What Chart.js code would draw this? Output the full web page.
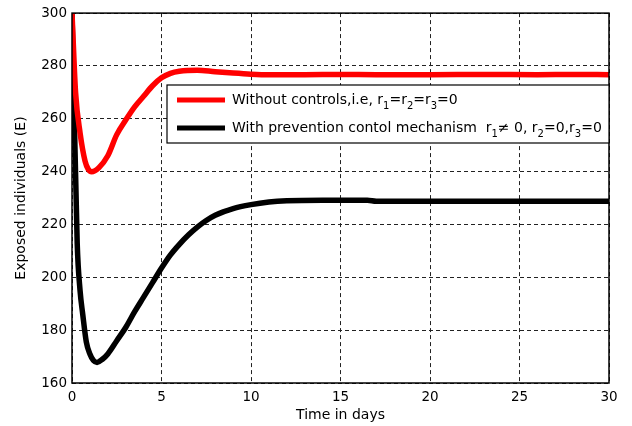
<!DOCTYPE html>
<html>
<head>
<meta charset="utf-8">
<script src="https://cdn.jsdelivr.net/npm/chart.js@4"></script>
<style>
  html, body { margin: 0; padding: 0; background: #fff; }
  #wrap { width: 632px; height: 426px; }
</style>
</head>
<body>
<div id="wrap"><canvas id="chart" width="632" height="426"></canvas></div>
<script>
// time (days) and exposed individuals
const timeWithout = [0, 0.05, 0.2, 0.45, 0.73, 0.9, 1.1, 1.5, 2.0, 2.5, 3.0, 3.5, 4.0, 4.5, 5.0, 5.5, 6.0, 7.0, 8.0, 9.0, 10.0, 11.0, 13, 15, 17, 20, 23, 26, 28, 30];
const exposedWithout = [300, 292, 270, 254.7, 244, 241, 240, 241.5, 246, 254, 259.5, 264.5, 268.5, 272.5, 275.5, 277.2, 278, 278.4, 277.8, 277.3, 276.9, 276.7, 276.7, 276.8, 276.7, 276.7, 276.8, 276.7, 276.8, 276.7];

const timePrevention = [0, 0.1, 0.29, 0.45, 0.6, 0.8, 1.0, 1.2, 1.4, 1.7, 2.0, 2.5, 3.0, 3.5, 4.0, 4.5, 5.0, 5.5, 6.0, 6.5, 7.0, 7.5, 8.0, 9.0, 10, 11, 12, 14, 16.5, 17, 20, 25, 30];
const exposedPrevention = [300, 270, 213, 195, 186, 175.5, 171, 168.5, 167.8, 169, 171, 176, 181, 187, 192.5, 198, 203.5, 208.5, 212.5, 216, 219, 221.5, 223.5, 226, 227.5, 228.5, 229, 229.2, 229.2, 228.8, 228.8, 228.8, 228.8];

const xTicks = [0, 5, 10, 15, 20, 25, 30];
const yTicks = [160, 180, 200, 220, 240, 260, 280, 300];

const FONT = '"DejaVu Sans", sans-serif';

function toPoints(xs, ys) {
  return xs.map((x, i) => ({ x: x, y: ys[i] }));
}

// legend entries: pieces of text, sub = subscript
const legendItems = [
  { color: '#ff0000', parts: [
    { t: 'Without controls,i.e, r' }, { t: '1', sub: true }, { t: '=r' }, { t: '2', sub: true },
    { t: '=r' }, { t: '3', sub: true }, { t: '=0' } ] },
  { color: '#000000', parts: [
    { t: 'With prevention contol mechanism  r' }, { t: '1', sub: true }, { t: '\u2260 0, r' },
    { t: '2', sub: true }, { t: '=0,r' }, { t: '3', sub: true }, { t: '=0' } ] }
];

const framePlugin = {
  id: 'frame',
  afterDraw(chart) {
    const ctx = chart.ctx;
    const a = chart.chartArea;
    ctx.save();
    ctx.strokeStyle = '#000';
    ctx.lineWidth = 1.5;
    ctx.strokeRect(a.left, a.top, a.right - a.left, a.bottom - a.top);

    // legend box
    const bx = 167, by = 85, bw = 442, bh = 58;
    ctx.fillStyle = '#fff';
    ctx.fillRect(bx, by, bw, bh);
    ctx.lineWidth = 1.2;
    ctx.strokeRect(bx, by, bw, bh);

    legendItems.forEach((item, i) => {
      const y = 100 + i * 28;
      ctx.strokeStyle = item.color;
      ctx.lineWidth = 5;
      ctx.beginPath();
      ctx.moveTo(177, y);
      ctx.lineTo(225, y);
      ctx.stroke();

      let x = 232;
      ctx.fillStyle = '#000';
      ctx.textBaseline = 'middle';
      ctx.textAlign = 'left';
      for (const p of item.parts) {
        ctx.font = p.sub ? '10px ' + FONT : '14px ' + FONT;
        ctx.fillText(p.t, x, p.sub ? y + 6 : y);
        x += ctx.measureText(p.t).width;
      }
    });
    ctx.restore();
  }
};

new Chart(document.getElementById('chart'), {
  type: 'line',
  data: {
    datasets: [
      {
        label: 'Without controls',
        data: toPoints(timeWithout, exposedWithout),
        borderColor: '#ff0000',
        borderWidth: 5.5,
        pointRadius: 0,
        cubicInterpolationMode: 'monotone',
        fill: false
      },
      {
        label: 'With prevention control mechanism',
        data: toPoints(timePrevention, exposedPrevention),
        borderColor: '#000000',
        borderWidth: 5.5,
        pointRadius: 0,
        cubicInterpolationMode: 'monotone',
        fill: false
      }
    ]
  },
  options: {
    responsive: false,
    animation: false,
    layout: { padding: { top: 12, right: 23, left: 13, bottom: 0 } },
    plugins: {
      legend: { display: false },
      tooltip: { enabled: false }
    },
    scales: {
      x: {
        type: 'linear',
        min: 0,
        max: 30,
        afterBuildTicks: (scale) => { scale.ticks = xTicks.map(v => ({ value: v })); },
        afterFit: (scale) => { scale.height = 43; },
        grid: { color: '#222', lineWidth: 1, drawTicks: false },
        border: { display: false, dash: [4, 3] },
        ticks: { color: '#000', font: { family: FONT, size: 13.5 }, padding: 6, maxRotation: 0 },
        title: { display: true, text: 'Time in days', color: '#000', font: { family: FONT, size: 14 }, padding: { top: 0, bottom: 2 } }
      },
      y: {
        min: 160,
        max: 300,
        afterBuildTicks: (scale) => { scale.ticks = yTicks.map(v => ({ value: v })); },
        afterFit: (scale) => { scale.width = 59; },
        grid: { color: '#222', lineWidth: 1, drawTicks: false },
        border: { display: false, dash: [4, 3] },
        ticks: { color: '#000', font: { family: FONT, size: 13.5 }, padding: 5 },
        title: { display: true, text: 'Exposed individuals (E)', color: '#000', font: { family: FONT, size: 14 }, padding: { top: 0, bottom: 0 } }
      }
    }
  },
  plugins: [framePlugin]
});
</script>
</body>
</html>
